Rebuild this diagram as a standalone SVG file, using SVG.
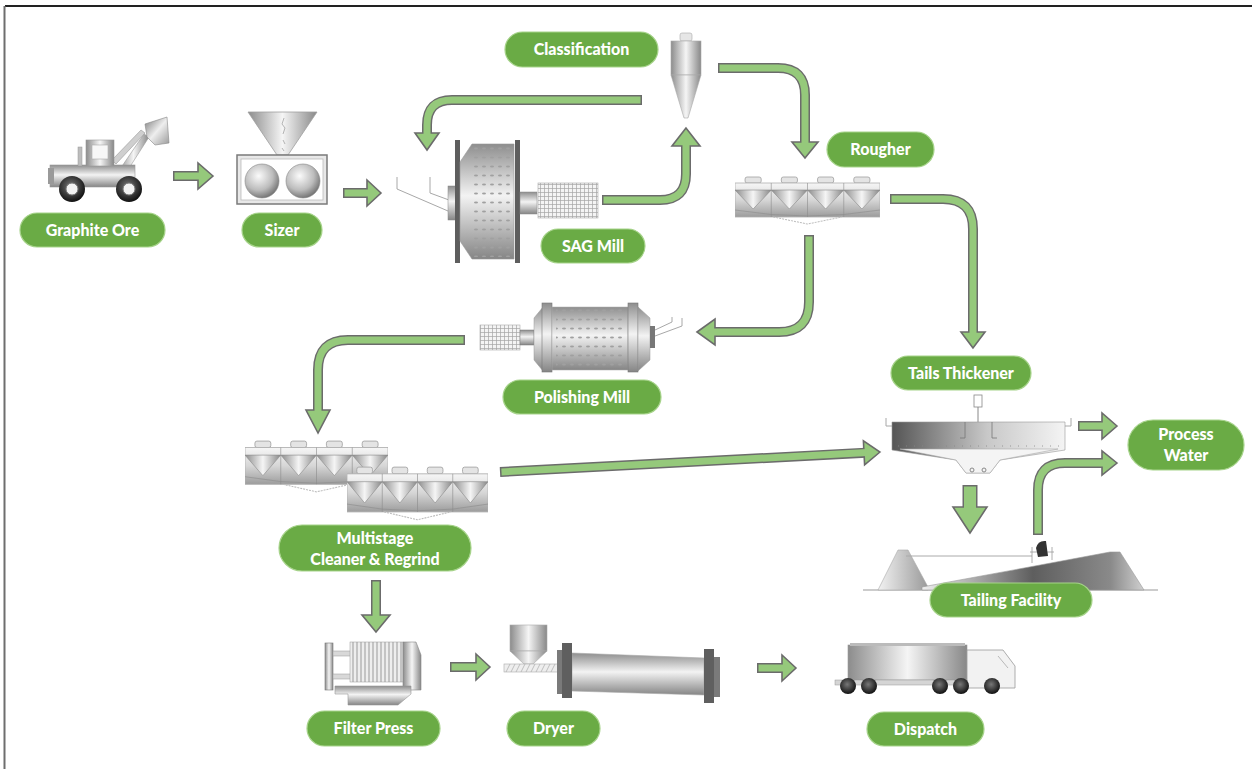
<svg xmlns="http://www.w3.org/2000/svg" xmlns:xlink="http://www.w3.org/1999/xlink" width="1252" height="769" viewBox="0 0 1252 769">
<style>
.pill{fill:#6aab45;stroke:#a6d38a;stroke-width:1.2}
.lbl{font-family:Lato,"Open Sans","Liberation Sans",sans-serif;font-weight:900;font-size:16px;fill:#ffffff;text-anchor:middle}
.so{fill:none;stroke:#6b6b6b;stroke-width:10}
.si{fill:none;stroke:#95c97b;stroke-width:7}
.hd{fill:#95c97b;stroke:#6b6b6b;stroke-width:1.6;stroke-linejoin:miter}
.thin{fill:none;stroke:#a8a8a8;stroke-width:1}
.dark{fill:#5e5e5e}
</style>
<defs>
<linearGradient id="gV" x1="0" y1="0" x2="0" y2="1"><stop offset="0" stop-color="#8e8e8e"/><stop offset="0.45" stop-color="#f3f3f3"/><stop offset="1" stop-color="#858585"/></linearGradient>
<linearGradient id="gH" x1="0" y1="0" x2="1" y2="0"><stop offset="0" stop-color="#8c8c8c"/><stop offset="0.5" stop-color="#f5f5f5"/><stop offset="1" stop-color="#888888"/></linearGradient>
<linearGradient id="gCell" x1="0" y1="0" x2="0" y2="1"><stop offset="0" stop-color="#f6f6f6"/><stop offset="0.5" stop-color="#d6d6d6"/><stop offset="1" stop-color="#9c9c9c"/></linearGradient>
<linearGradient id="gThick" x1="0" y1="0" x2="1" y2="0"><stop offset="0" stop-color="#555555"/><stop offset="0.55" stop-color="#c8c8c8"/><stop offset="1" stop-color="#f4f4f4"/></linearGradient>
<linearGradient id="gRamp" x1="0" y1="0" x2="1" y2="0"><stop offset="0" stop-color="#eeeeee"/><stop offset="0.5" stop-color="#5e5e5e"/><stop offset="0.85" stop-color="#8a8a8a"/><stop offset="1" stop-color="#d0d0d0"/></linearGradient>
<linearGradient id="gBerm" x1="0" y1="0" x2="1" y2="0"><stop offset="0" stop-color="#f2f2f2"/><stop offset="1" stop-color="#9a9a9a"/></linearGradient>
<linearGradient id="gBody" x1="0" y1="0" x2="1" y2="1"><stop offset="0" stop-color="#7a7a7a"/><stop offset="0.5" stop-color="#eeeeee"/><stop offset="1" stop-color="#9a9a9a"/></linearGradient>
<radialGradient id="gBall" cx="0.4" cy="0.35" r="0.7"><stop offset="0" stop-color="#fbfbfb"/><stop offset="0.6" stop-color="#bcbcbc"/><stop offset="1" stop-color="#6a6a6a"/></radialGradient>
<radialGradient id="gWheel" cx="0.45" cy="0.4" r="0.6"><stop offset="0" stop-color="#777777"/><stop offset="1" stop-color="#111111"/></radialGradient>
<pattern id="pDots" width="8" height="9" patternUnits="userSpaceOnUse"><rect width="8" height="9" fill="none"/><ellipse cx="4" cy="4.5" rx="2" ry="1.1" fill="#a0a0a0"/></pattern>
<pattern id="pGrid" width="4" height="4" patternUnits="userSpaceOnUse"><path d="M0,0.5H4M0.5,0V4" stroke="#a5a5a5" stroke-width="0.7" fill="none"/></pattern>
<pattern id="pPlate" width="4" height="10" patternUnits="userSpaceOnUse"><path d="M1,0V10" stroke="#9a9a9a" stroke-width="1" fill="none"/></pattern>
<symbol id="cells" viewBox="0 0 144 50" preserveAspectRatio="none">
<g fill="#e4e4e4" stroke="#a0a0a0" stroke-width="0.8">
<rect x="10" y="1" width="16" height="6" rx="2"/><rect x="46" y="1" width="16" height="6" rx="2"/><rect x="82" y="1" width="16" height="6" rx="2"/><rect x="118" y="1" width="16" height="6" rx="2"/>
</g>
<rect x="0" y="7" width="144" height="34" fill="url(#gCell)" stroke="#b0b0b0" stroke-width="0.8"/>
<g fill="url(#gH)" stroke="#8a8a8a" stroke-width="0.6">
<polygon points="0,14 18,33 36,14"/><polygon points="36,14 54,33 72,14"/><polygon points="72,14 90,33 108,14"/><polygon points="108,14 126,33 144,14"/>
</g>
<path d="M36,7V41M72,7V41M108,7V41" stroke="#8c8c8c" stroke-width="0.6" fill="none"/>
<path d="M0,34 Q72,46 144,34" stroke="#8c8c8c" stroke-width="0.6" fill="none"/>
<path d="M38,41 L72,48 L106,41" stroke="#bdbdbd" stroke-width="1" stroke-dasharray="2,1" fill="none"/>
</symbol>
</defs>

<rect width="1252" height="769" fill="#ffffff"/>
<path d="M5,6H1252" stroke="#222222" stroke-width="2"/>
<path d="M4.5,6V769" stroke="#6e6e6e" stroke-width="2"/>

<g id="connectors">
<path class="so" d="M173,176H200"/><polygon class="hd" points="213,176 198,163 198,189"/><path class="si" d="M174.5,176H201"/>
<path class="so" d="M343,193H369"/><polygon class="hd" points="381,193 367,180 367,206"/><path class="si" d="M344.5,193H370"/>
<path class="so" d="M642,100H452Q427,100 427,125V135"/><polygon class="hd" points="427,150 415,133 439,133"/><path class="si" d="M640.5,100H452Q427,100 427,125V136"/>
<path class="so" d="M602,200H660Q686,200 686,174V145"/><polygon class="hd" points="686,128 672,146 700,146"/><path class="si" d="M603.5,200H660Q686,200 686,174V144"/>
<path class="so" d="M718,68H778Q805,68 805,95V144"/><polygon class="hd" points="805,158 792,142 818,142"/><path class="si" d="M719.5,68H778Q805,68 805,95V145"/>
<path class="so" d="M890,199H943Q973,199 973,229V334"/><polygon class="hd" points="973,348 961,332 985,332"/><path class="si" d="M891.5,199H943Q973,199 973,229V335"/>
<path class="so" d="M809,235V302Q809,332 779,332H713"/><polygon class="hd" points="697,332 715,319 715,345"/><path class="si" d="M809,236.5V302Q809,332 779,332H712"/>
<path class="so" d="M465,340H348Q318,340 318,370V412"/><polygon class="hd" points="318,433 306,410 330,410"/><path class="si" d="M463.5,340H348Q318,340 318,370V413"/>
<path class="so" d="M500,472L866,452.7"/><polygon class="hd" points="880,452 864.6,464.8 863.4,440.8"/><path class="si" d="M501.5,471.9L867,452.6"/>
<path class="so" d="M1078,426H1104"/><polygon class="hd" points="1117,426 1102,413 1102,439"/><path class="si" d="M1079.5,426H1105"/>
<path class="so" style="stroke-width:15" d="M970,485V509"/><polygon class="hd" points="970,533 953,507 987,507"/><path class="si" style="stroke-width:12" d="M970,486.5V510"/>
<path class="so" d="M1038,535V490Q1038,463 1065,463H1104"/><polygon class="hd" points="1117,463 1102,451 1102,475"/><path class="si" d="M1038,533.5V490Q1038,463 1065,463H1105"/>
<path class="so" d="M376,580V617"/><polygon class="hd" points="376,632 362,615 390,615"/><path class="si" d="M376,581.5V618"/>
<path class="so" d="M450,667H478"/><polygon class="hd" points="490,667 476,654 476,680"/><path class="si" d="M451.5,667H479"/>
<path class="so" d="M757,668H784"/><polygon class="hd" points="796,668 782,655 782,681"/><path class="si" d="M758.5,668H785"/>
</g>

<g id="graphite-ore">
<path d="M118,172 L144,134 L149,137 L124,176Z" fill="url(#gH)" stroke="#999" stroke-width="0.6"/>
<path d="M112,160 L141,130 L145,133 L116,164Z" fill="#cfcfcf" stroke="#999" stroke-width="0.6"/>
<polygon points="145,124 167,117 169,143 155,145 147,137" fill="url(#gBody)" stroke="#888" stroke-width="0.6"/>
<rect x="50" y="165" width="85" height="22" fill="url(#gV)" stroke="#999" stroke-width="0.6"/>
<rect x="48" y="168" width="6" height="16" fill="#9a9a9a"/>
<rect x="86" y="140" width="28" height="26" fill="url(#gH)" stroke="#999" stroke-width="0.6"/>
<rect x="92" y="145" width="16" height="14" fill="#f7f7f7" stroke="#aaa" stroke-width="0.6"/>
<rect x="78" y="147" width="4" height="19" fill="#bdbdbd" stroke="#999" stroke-width="0.5"/>
<circle cx="72" cy="189" r="13" fill="url(#gWheel)"/><circle cx="72" cy="189" r="6" fill="#f2f2f2" stroke="#777"/>
<circle cx="129" cy="189" r="13" fill="url(#gWheel)"/><circle cx="129" cy="189" r="6" fill="#f2f2f2" stroke="#777"/>
<rect x="20" y="213" width="145" height="34" rx="17" class="pill"/>
<text x="92.5" y="235.5" class="lbl">Graphite Ore</text>
</g>

<g id="sizer">
<polygon points="248,112 317,112 288,155 277,155" fill="url(#gH)" stroke="#a0a0a0" stroke-width="0.8"/>
<path d="M284,118 l-2,6 l3,4 l-2,6 M283,140 l2,4 M282,148 l2,3" stroke="#999" stroke-width="0.7" fill="none"/>
<rect x="237" y="155" width="90" height="49" fill="#e8e8e8" stroke="#7a7a7a" stroke-width="1.5"/>
<rect x="241" y="159" width="82" height="41" fill="#ffffff" stroke="#bbbbbb" stroke-width="0.8"/>
<circle cx="262" cy="181" r="17" fill="url(#gBall)" stroke="#888" stroke-width="0.6"/>
<circle cx="303" cy="181" r="17" fill="url(#gBall)" stroke="#888" stroke-width="0.6"/>
<rect x="242" y="213" width="80" height="34" rx="17" class="pill"/>
<text x="282" y="235.5" class="lbl">Sizer</text>
</g>

<g id="sag-mill">
<path d="M397,177V189L448,211M430,177V193L449,200" class="thin"/>
<rect x="448" y="186" width="9" height="34" fill="url(#gV)" stroke="#888" stroke-width="0.5"/>
<rect x="455" y="140" width="5" height="123" class="dark"/>
<polygon points="460,162 472,144 514,144 514,259 472,259 460,241" fill="url(#gV)" stroke="#999" stroke-width="0.6"/>
<rect x="472" y="146" width="40" height="111" fill="url(#pDots)"/>
<rect x="515" y="140" width="5" height="123" class="dark"/>
<rect x="520" y="192" width="17" height="22" fill="url(#gV)" stroke="#888" stroke-width="0.5"/>
<rect x="538" y="183" width="60" height="35" fill="#f4f4f4"/>
<rect x="538" y="183" width="60" height="35" fill="url(#pGrid)" stroke="#aaa" stroke-width="0.6"/>
<rect x="541" y="229" width="104" height="34" rx="17" class="pill"/>
<text x="593" y="251.5" class="lbl">SAG Mill</text>
</g>

<g id="classification">
<rect x="680" y="33" width="12" height="8" rx="2" fill="#e6e6e6" stroke="#aaa" stroke-width="0.6"/>
<rect x="671" y="41" width="30" height="34" fill="url(#gH)" stroke="#aaa" stroke-width="0.6"/>
<polygon points="671,75 701,75 688,118 684,118" fill="url(#gH)" stroke="#aaa" stroke-width="0.6"/>
<rect x="505" y="32" width="153" height="35" rx="17.5" class="pill"/>
<text x="581.5" y="55" class="lbl">Classification</text>
</g>

<g id="rougher">
<use xlink:href="#cells" href="#cells" x="735" y="176" width="145" height="50"/>
<rect x="827" y="132" width="107" height="35" rx="17.5" class="pill"/>
<text x="880.5" y="155" class="lbl">Rougher</text>
</g>

<g id="polishing-mill">
<rect x="480" y="325" width="40" height="25" fill="#f4f4f4"/>
<rect x="480" y="325" width="40" height="25" fill="url(#pGrid)" stroke="#aaa" stroke-width="0.6"/>
<rect x="520" y="330" width="14" height="15" fill="url(#gV)" stroke="#777" stroke-width="0.5"/>
<polygon points="534,318 543,307 543,371 534,360" fill="url(#gV)" stroke="#999" stroke-width="0.5"/>
<rect x="542" y="303" width="10" height="69" fill="url(#gV)" stroke="#777" stroke-width="0.6"/>
<rect x="552" y="307" width="76" height="63" fill="url(#gV)" stroke="#aaa" stroke-width="0.5"/>
<rect x="556" y="309" width="70" height="59" fill="url(#pDots)"/>
<rect x="628" y="303" width="10" height="69" fill="url(#gV)" stroke="#777" stroke-width="0.6"/>
<polygon points="638,307 650,318 650,360 638,371" fill="url(#gV)" stroke="#999" stroke-width="0.5"/>
<rect x="650" y="326" width="5" height="22" fill="#777"/>
<path d="M655,336L682,326V318M655,330L672,322V317" class="thin"/>
<rect x="503" y="380" width="158" height="34" rx="17" class="pill"/>
<text x="582" y="402.5" class="lbl">Polishing Mill</text>
</g>

<g id="cleaner">
<use xlink:href="#cells" href="#cells" x="245" y="440" width="143" height="54"/>
<use xlink:href="#cells" href="#cells" x="347" y="466" width="141" height="56"/>
<rect x="279" y="525" width="192" height="46" rx="23" class="pill"/>
<text x="375" y="543.5" class="lbl">Multistage</text>
<text x="375" y="565" class="lbl">Cleaner &amp; Regrind</text>
</g>

<g id="tails-thickener">
<path d="M978,400V422" stroke="#888" stroke-width="1"/>
<rect x="974" y="395" width="8" height="12" fill="#fff" stroke="#888" stroke-width="0.8"/>
<path d="M886,418V426H892M1071,418V426H1065" class="thin"/>
<polygon points="892,422 1065,422 1065,450 1000,460 990,473 966,473 956,460 892,450" fill="url(#gThick)" stroke="#999" stroke-width="0.6"/>
<polygon points="900,449 1058,449 1000,460 990,473 966,473 956,460" fill="#f4f4f4" stroke="#aaa" stroke-width="0.6"/>
<path d="M898,446H1060" stroke="#888" stroke-width="0.8" stroke-dasharray="1,7"/>
<path d="M965,422V438H960M992,422V438H997" stroke="#777" stroke-width="0.8" fill="none"/>
<circle cx="972" cy="470" r="2" fill="none" stroke="#888"/><circle cx="984" cy="470" r="2" fill="none" stroke="#888"/>
<rect x="891" y="356" width="140" height="34" rx="17" class="pill"/>
<text x="961" y="378.5" class="lbl">Tails Thickener</text>
</g>

<g id="process-water">
<rect x="1128" y="420" width="116" height="50" rx="25" class="pill"/>
<text x="1186" y="440" class="lbl">Process</text>
<text x="1186" y="461" class="lbl">Water</text>
</g>

<g id="tailing-facility">
<path d="M863,590H1158" stroke="#999" stroke-width="1"/>
<polygon points="878,590 898,550 908,550 928,587 928,590" fill="url(#gBerm)" stroke="#aaa" stroke-width="0.6"/>
<polygon points="922,587 1110,552 1120,552 1144,590 922,590" fill="url(#gRamp)" stroke="#999" stroke-width="0.6"/>
<path d="M906,556H1032" stroke="#aaa" stroke-width="1"/>
<path d="M1032,547V563M1052,547V560M1030,552H1054" stroke="#999" stroke-width="0.8" fill="none"/>
<path d="M1036,548Q1038,540 1046,541L1048,556L1038,557Z" fill="#333"/>
<rect x="930" y="583" width="162" height="34" rx="17" class="pill"/>
<text x="1011" y="605.5" class="lbl">Tailing Facility</text>
</g>

<g id="filter-press">
<rect x="325" y="643" width="8" height="47" fill="url(#gH)" stroke="#777" stroke-width="0.6"/>
<rect x="333" y="651" width="72" height="5" fill="#d8d8d8" stroke="#999" stroke-width="0.5"/>
<rect x="333" y="674" width="72" height="5" fill="#d8d8d8" stroke="#999" stroke-width="0.5"/>
<rect x="350" y="642" width="53" height="40" fill="#eeeeee"/>
<rect x="350" y="642" width="53" height="40" fill="url(#pPlate)" stroke="#999" stroke-width="0.5"/>
<polygon points="403,642 416,642 421,655 421,690 403,690" fill="url(#gH)" stroke="#888" stroke-width="0.6"/>
<polygon points="335,686 411,686 411,694 398,705 348,705 348,694 335,694" fill="url(#gV)" stroke="#999" stroke-width="0.6"/>
<rect x="307" y="711" width="133" height="35" rx="17.5" class="pill"/>
<text x="373.5" y="734" class="lbl">Filter Press</text>
</g>

<g id="dryer">
<rect x="510" y="625" width="37" height="26" fill="url(#gH)" stroke="#aaa" stroke-width="0.6"/>
<polygon points="510,651 547,651 533,664 524,664" fill="url(#gH)" stroke="#aaa" stroke-width="0.6"/>
<rect x="504" y="664" width="54" height="8" fill="#eeeeee" stroke="#aaa" stroke-width="0.6"/>
<path d="M506,672L510,664M511,672L515,664M516,672L520,664M521,672L525,664M526,672L530,664M531,672L535,664M536,672L540,664M541,672L545,664M546,672L550,664M551,672L555,664" stroke="#aaa" stroke-width="0.7"/>
<polygon points="572,653 704,658 704,695 572,691" fill="url(#gV)" stroke="#aaa" stroke-width="0.6"/>
<rect x="557" y="650" width="5" height="44" fill="#7a7a7a"/>
<rect x="562" y="643" width="10" height="55" fill="#5f5f5f"/>
<rect x="704" y="649" width="10" height="54" fill="#5f5f5f"/>
<rect x="714" y="657" width="6" height="40" fill="#7a7a7a"/>
<rect x="507" y="711" width="93" height="35" rx="17.5" class="pill"/>
<text x="553.5" y="734" class="lbl">Dryer</text>
</g>

<g id="dispatch">
<rect x="848" y="645" width="119" height="35" fill="url(#gH)" stroke="#999" stroke-width="0.6"/>
<rect x="850" y="643" width="115" height="3" fill="#bbb"/>
<rect x="835" y="680" width="136" height="5" fill="#d5d5d5" stroke="#999" stroke-width="0.5"/>
<polygon points="967,650 1003,650 1015,666 1015,688 967,688" fill="#f2f2f2" stroke="#999" stroke-width="0.8"/>
<path d="M998,656L1008,668" stroke="#aaa" stroke-width="0.8"/>
<circle cx="848" cy="686" r="8" fill="url(#gWheel)"/>
<circle cx="869" cy="686" r="8" fill="url(#gWheel)"/>
<circle cx="940" cy="686" r="8" fill="url(#gWheel)"/>
<circle cx="961" cy="686" r="8" fill="url(#gWheel)"/>
<circle cx="992" cy="686" r="8" fill="url(#gWheel)"/>
<rect x="867" y="712" width="117" height="34" rx="17" class="pill"/>
<text x="925.5" y="734.5" class="lbl">Dispatch</text>
</g>
</svg>
